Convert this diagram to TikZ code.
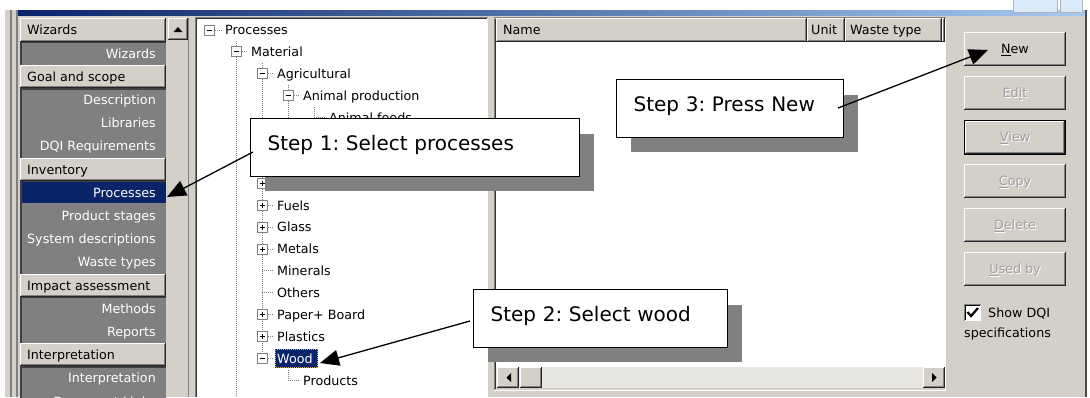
\documentclass[tikz,border=0pt]{standalone}
\usepackage{fontspec}
\newfontfamily\uifont{DejaVu Sans}
\usetikzlibrary{arrows.meta,shadows}
\frenchspacing
\definecolor{winbg}{HTML}{D4D0C8}
\definecolor{dkgray}{HTML}{808080}
\definecolor{selblue}{HTML}{0A246A}
\definecolor{ttlA}{HTML}{0A246A}
\definecolor{ttlB}{HTML}{A6CAF0}
\definecolor{distext}{HTML}{A0A0A0}
\definecolor{shadowgray}{HTML}{808080}
\definecolor{track}{HTML}{E8E6E0}
\definecolor{focusdot}{HTML}{C8B060}
\newcommand\raisedrect[4]{%
  \fill[winbg] (#1,#2) rectangle (#3,#4);
  \draw[white,line width=1pt] (#1+0.5,#4-1) -- (#1+0.5,#2+0.5) -- (#3-1,#2+0.5);
  \draw[dkgray,line width=1pt] (#1+1,#4-1.5) -- (#3-1.5,#4-1.5) -- (#3-1.5,#2+1);
  \draw[black!85,line width=1pt] (#1,#4-0.5) -- (#3-0.5,#4-0.5) -- (#3-0.5,#2);
}
\tikzset{
  x=1pt, y=-1pt,
  uitext/.style={font=\uifont\fontsize{12.7}{15}\selectfont, inner sep=0pt},
  hdrtext/.style={uitext, anchor=base west, text=black},
  itemtext/.style={uitext, anchor=base east, text=white},
  treetext/.style={uitext, anchor=base west, text=black},
  btntext/.style={uitext, anchor=base, text=black},
  distxt/.style={uitext, anchor=base, text=distext},
  embtxt/.style={uitext, anchor=base, text=white},
  dotline/.style={dkgray, line width=1pt, dash pattern=on 1pt off 1pt},
  callout/.style={draw=black, fill=white, line width=1.3pt, inner xsep=17pt, inner ysep=0pt,
    text height=31.5pt, text depth=26pt, align=left, anchor=north west,
    font=\uifont\fontsize{20}{24}\selectfont,
    drop shadow={shadow xshift=14pt, shadow yshift=-15pt, fill=shadowgray, opacity=1}},
  pointer/.style={line width=1.3pt, -{Triangle[length=19pt,width=16pt]}},
  minusbox/.pic={\draw[dkgray, fill=white, line width=1pt] (-5,-5) rectangle (5,5);
                 \draw[black, line width=1pt] (-2.5,0) -- (2.5,0);},
  plusbox/.pic={\draw[dkgray, fill=white, line width=1pt] (-5,-5) rectangle (5,5);
                \draw[black, line width=1pt] (-2.5,0) -- (2.5,0) (0,-2.5) -- (0,2.5);},
}
\begin{document}
\begin{tikzpicture}
\useasboundingbox (0,0) rectangle (1090,397);
% ---------- window background ----------
\fill[winbg] (0,0) rectangle (1090,397);
\fill[white] (0,0) rectangle (1090,10);
\fill[white] (0,0) rectangle (5,397);
\fill[dkgray] (10,10) rectangle (12,397);
\fill[dkgray] (16,10) rectangle (18,397);
\shade[left color=ttlA, right color=ttlB] (18,10) rectangle (1085,15);
\draw[gray!60, fill=ttlB!40!white] (1013,-2) rectangle (1057,12);
\draw[gray!60, fill=ttlB!40!white] (1060,-2) rectangle (1082,12);
\fill[black!70] (1085,10) rectangle (1087,397);
\fill[white] (1087,0) rectangle (1090,397);
% ---------- left navigation panel ----------
\foreach \a/\b in {41.6/64.8, 88/157.6, 180.8/273.6, 296.8/343.2, 366.4/400}{
  \fill[dkgray] (20,\a) rectangle (166,\b);
  \draw[black!75, line width=1.5pt] (20.75,\b) -- (20.75,\a+0.75) -- (166,\a+0.75);
}
\fill[selblue] (21.5,182) rectangle (166,203);
\foreach \i in {0,2,6,11,14}{
  \raisedrect{20}{18.4+23.2*\i}{166}{41.6+23.2*\i}
}
\foreach \i/\t/\n in {0/Wizards/hwiz, 2/Goal and scope/hgoal, 6/Inventory/hinv,
    11/Impact assessment/himp, 14/Interpretation/hint}{
  \node[hdrtext] (\n) at (27, 34.8+23.2*\i) {\t};
}
\foreach \i/\t/\n in {1/Wizards/lwiz, 3/Description/ldesc, 4/Libraries/llib,
    5/DQI Requirements/ldqi, 7/Processes/lproc, 8/Product stages/lstage,
    9/System descriptions/lsys, 10/Waste types/lwaste, 12/Methods/lmeth,
    13/Reports/lrep, 15/Interpretation/linterp, 16/Document Links/ldoc}{
  \node[itemtext] (\n) at (156, 34.8+23.2*\i) {\t};
}
% vertical scrollbar of the panel
\fill[winbg] (166,18) rectangle (188,397);
\raisedrect{168}{18}{188}{40}
\fill[black] (173.5,32) -- (182.5,32) -- (178,27) -- cycle;
\fill[dkgray] (188,18) rectangle (189,397);
% ---------- tree panel ----------
\fill[white] (196,18) rectangle (487,397);
\draw[dkgray, line width=1pt] (195.5,397) -- (195.5,17.5) -- (487.5,17.5);
\draw[black!80, line width=1pt] (196.5,397) -- (196.5,18.5) -- (486.5,18.5);
\draw[white, line width=1pt] (487.5,18) -- (487.5,397);
% tree lines
\draw[dotline] (236,41) -- (236,397);
\draw[dotline] (262,62.8) -- (262,358.5);
\draw[dotline] (288,84.7) -- (288,150);
\draw[dotline] (314,106.6) -- (314,150);
\draw[dotline] (288,369.5) -- (288,380.4);
\draw[dotline] (209,30) -- (222,30);
\draw[dotline] (236,51.9) -- (248,51.9);
\draw[dotline] (262,73.8) -- (274,73.8);
\draw[dotline] (288,95.7) -- (300,95.7);
\draw[dotline] (314,117.6) -- (326,117.6);
\foreach \j in {7,...,15}{ \draw[dotline] (262,30+21.9*\j) -- (274,30+21.9*\j); }
\draw[dotline] (288,380.4) -- (300,380.4);
% expand boxes
\pic at (209,30) {minusbox};
\pic at (236,51.9) {minusbox};
\pic at (262,73.8) {minusbox};
\pic at (288,95.7) {minusbox};
\foreach \j in {7,8,9,10,13,14}{ \pic at (262,30+21.9*\j) {plusbox}; }
\pic at (262,358.5) {minusbox};
% tree texts
\node[treetext] (tproc) at (225,34.8) {Processes};
\node[treetext] (tmat) at (251,56.7) {Material};
\node[treetext] (tagr) at (277,78.6) {Agricultural};
\node[treetext] (tanim) at (303,100.5) {Animal production};
\node[treetext] (tfeed) at (329,122.4) {Animal feeds};
\foreach \j/\t/\n in {8/Fuels/tfuel, 9/Glass/tglass, 10/Metals/tmet, 11/Minerals/tmin,
    12/Others/toth, 13/Paper+ Board/tpap, 14/Plastics/tplas}{
  \node[treetext] (\n) at (277, 34.8+21.9*\j) {\t};
}
\fill[selblue] (275,349) rectangle (318,368);
\draw[focusdot, line width=1pt, dash pattern=on 1pt off 1pt] (275.5,349.5) rectangle (317.5,367.5);
\node[treetext, text=white] (twood) at (277,363.3) {Wood};
\node[treetext] (tprod) at (303,385.2) {Products};
% ---------- list panel ----------
\fill[winbg] (488,18) rectangle (495,397);
\fill[white] (496,42) rectangle (945,367);
\draw[dkgray, line width=1pt] (494.5,390) -- (494.5,17.5) -- (945.5,17.5);
\draw[black!80, line width=1pt] (495.5,389) -- (495.5,18.5);
\raisedrect{496}{18}{807}{42}
\raisedrect{807}{18}{845}{42}
\raisedrect{845}{18}{942}{42}
\raisedrect{942}{18}{945}{42}
\node[hdrtext] (hname) at (503,34.8) {Name};
\node[hdrtext] (hunit) at (811,34.8) {Unit};
\node[hdrtext] (hwaste) at (850,34.8) {Waste type};
% horizontal scrollbar
\fill[track] (496,367) rectangle (945,388);
\raisedrect{497}{367}{519}{388}
\fill[black] (511,373) -- (511,382) -- (506.5,377.5) -- cycle;
\raisedrect{520}{367}{542}{388}
\raisedrect{923}{367}{945}{388}
\fill[black] (932,373) -- (932,382) -- (936.5,377.5) -- cycle;
\draw[white, line width=1pt] (945.5,18) -- (945.5,390) -- (494,390);
% ---------- button panel ----------
\raisedrect{964}{32}{1066}{66}
\node[btntext] (bnew) at (1015,53.8) {\underline{N}ew};
\raisedrect{964}{76}{1066}{110}
\node[embtxt] (bedits) at (1016,98.8) {Ed\underline{i}t};
\node[distxt] (bedit) at (1015,97.8) {Ed\underline{i}t};
\draw[black, line width=1pt] (964.5,120.5) rectangle (1065.5,154.5);
\raisedrect{965}{121}{1065}{154}
\node[embtxt] (bviews) at (1016,142.8) {\underline{V}iew};
\node[distxt] (bview) at (1015,141.8) {\underline{V}iew};
\raisedrect{964}{164}{1066}{198}
\node[embtxt] (bcopys) at (1016,186.8) {\underline{C}opy};
\node[distxt] (bcopy) at (1015,185.8) {\underline{C}opy};
\raisedrect{964}{208}{1066}{242}
\node[embtxt] (bdels) at (1016,230.8) {\underline{D}elete};
\node[distxt] (bdel) at (1015,229.8) {\underline{D}elete};
\raisedrect{964}{252}{1066}{286}
\node[embtxt] (bused) at (1016,274.8) {\underline{U}sed by};
\node[distxt] (buse) at (1015,273.8) {\underline{U}sed by};
% checkbox
\fill[white] (964,304) rectangle (981,321);
\draw[dkgray, line width=1pt] (964.5,321) -- (964.5,304.5) -- (981,304.5);
\draw[black, line width=1pt] (965.5,320) -- (965.5,305.5) -- (980,305.5);
\draw[line width=2.2pt] (967.5,312) -- (971,316) -- (978,308);
\node[hdrtext] (cshow) at (988,317.8) {Show DQI};
\node[hdrtext] (cspec) at (964,337.8) {specifications};
% ---------- callouts ----------
\node[callout, text width=295pt] (c1) at (250,118) {Step 1: Select processes};
\node[callout, text width=220pt] (c2) at (473,289) {Step 2: Select wood};
\node[callout, text width=193pt] (c3) at (616,79) {Step 3: Press New};
% ---------- pointers ----------
\coordinate (a1s) at (253,152);
\coordinate (a1t) at (167,197);
\coordinate (a2s) at (470,321);
\coordinate (a2t) at (320,363);
\coordinate (a3s) at (838,108);
\coordinate (a3t) at (988,50);
\draw[pointer] (a1s) -- (a1t);
\draw[pointer] (a2s) -- (a2t);
\draw[pointer] (a3s) -- (a3t);
\end{tikzpicture}
\end{document}
